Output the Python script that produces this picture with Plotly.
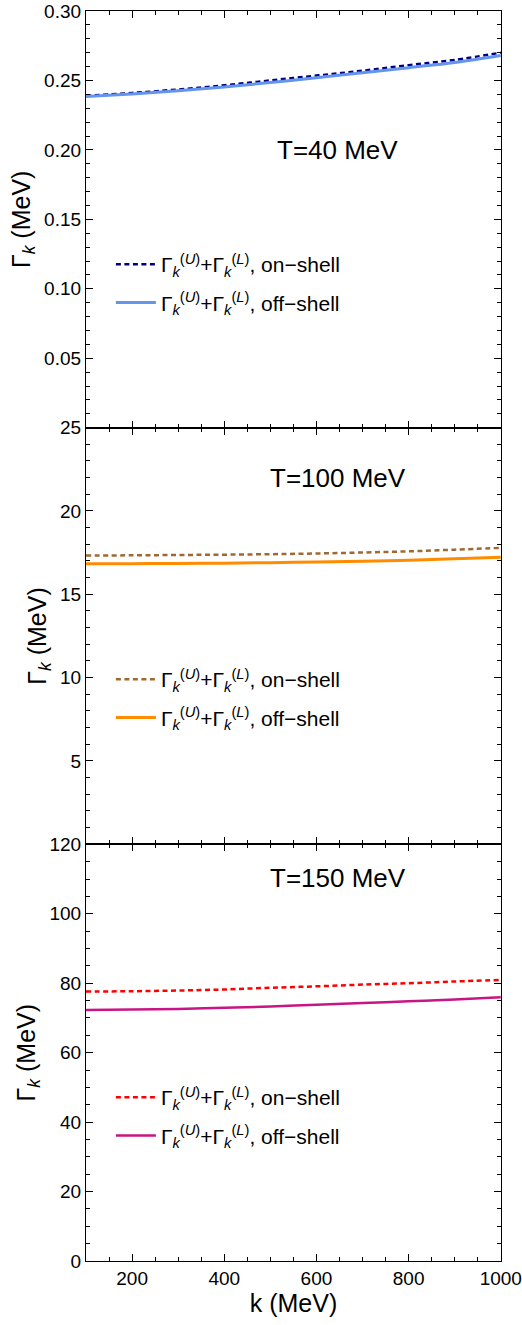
import plotly.graph_objects as go
from plotly.subplots import make_subplots

k = [100, 200, 300, 400, 500, 600, 700, 800, 900, 1000]

# T = 40 MeV
on_40 = [0.2390, 0.2410, 0.2435, 0.2465, 0.2500, 0.2535, 0.2570, 0.2610, 0.2648, 0.2700]
off_40 = [0.2385, 0.2403, 0.2425, 0.2453, 0.2485, 0.2520, 0.2555, 0.2592, 0.2630, 0.2680]
# T = 100 MeV
on_100 = [17.33, 17.34, 17.36, 17.38, 17.41, 17.45, 17.51, 17.58, 17.68, 17.79]
off_100 = [16.83, 16.84, 16.85, 16.87, 16.90, 16.94, 16.99, 17.05, 17.13, 17.23]
# T = 150 MeV
on_150 = [77.6, 77.7, 77.9, 78.2, 78.7, 79.1, 79.6, 80.0, 80.5, 80.95]
off_150 = [72.3, 72.4, 72.6, 72.9, 73.3, 73.8, 74.3, 74.8, 75.3, 75.95]

panel_titles = ["T=40 MeV", "T=100 MeV", "T=150 MeV"]
on_label = "Γ<sub><i>k</i></sub><sup>(<i>U</i>)</sup>+Γ<sub><i>k</i></sub><sup>(<i>L</i>)</sup>, on−shell"
off_label = "Γ<sub><i>k</i></sub><sup>(<i>U</i>)</sup>+Γ<sub><i>k</i></sub><sup>(<i>L</i>)</sup>, off−shell"

x_ticks = [200, 400, 600, 800, 1000]
y_ranges = [[0, 0.30], [0, 25], [0, 120]]
y_ticks = [[0.05, 0.10, 0.15, 0.20, 0.25, 0.30], [5, 10, 15, 20, 25], [0, 20, 40, 60, 80, 100, 120]]
y_minor = [0.01, 1, 5]
title_pos = [(646, 0.200), (646, 22.0), (646, 110.2)]

series = [(on_40, off_40, "#000080", "#6495ED"),
          (on_100, off_100, "#A06932", "#FF8C00"),
          (on_150, off_150, "#FF0000", "#C71585")]

FONT = "Liberation Sans, Arial, Helvetica, sans-serif"

fig = make_subplots(rows=3, cols=1, shared_xaxes=True, vertical_spacing=0)

legends = ["legend", "legend2", "legend3"]
for i, (on, off, c_on, c_off) in enumerate(series):
    r = i + 1
    fig.add_trace(go.Scatter(x=k, y=on, mode="lines", name=on_label,
                             legendgroup=f"on{i}",
                             line=dict(color=c_on, width=2.5, dash="5px,3.5px", shape="spline"),
                             legend=legends[i]), row=r, col=1)
    fig.add_trace(go.Scatter(x=k, y=off, mode="lines", name=off_label,
                             legendgroup=f"off{i}",
                             line=dict(color=c_off, width=3 if i < 2 else 2.5, shape="spline"),
                             legend=legends[i]), row=r, col=1)

axis_common = dict(showline=True, linecolor="black", linewidth=1.2, mirror="allticks",
                   ticks="inside", ticklen=7, tickwidth=1.2, tickcolor="black",
                   showgrid=False, zeroline=False, automargin=False,
                   tickfont=dict(family=FONT, size=19, color="black"))

for i in range(3):
    r = i + 1
    fig.update_yaxes(range=y_ranges[i], tickvals=y_ticks[i],
                     tickformat=".2f" if i == 0 else "d",
                     minor=dict(ticks="inside", dtick=y_minor[i], ticklen=4, tickcolor="black", tickwidth=1),
                     title=dict(text="Γ<sub><i>k</i></sub> (MeV)", font=dict(family=FONT, size=25, color="black"), standoff=6),
                     row=r, col=1, **axis_common)
    fig.update_xaxes(range=[100, 1000.5], tickvals=x_ticks,
                     minor=dict(ticks="inside", dtick=50, tick0=0, ticklen=4, tickcolor="black", tickwidth=1),
                     showticklabels=(i == 2), row=r, col=1, **axis_common)
    xr = "x" if i == 0 else f"x{r}"
    yr = "y" if i == 0 else f"y{r}"
    fig.add_annotation(x=title_pos[i][0], y=title_pos[i][1], xref=xr, yref=yr,
                       text=panel_titles[i], showarrow=False,
                       font=dict(family=FONT, size=26, color="black"))

fig.update_xaxes(title=dict(text="k (MeV)", font=dict(family=FONT, size=25, color="black"), standoff=4),
                 row=3, col=1)

H = 1325
def py(p):
    return (1261 - p) / 1250.0

leg_common = dict(xanchor="left", yanchor="top", bgcolor="rgba(0,0,0,0)", itemwidth=40,
                  font=dict(family=FONT, size=21, color="black"), tracegroupgap=8)
fig.update_layout(
    width=522, height=H,
    margin=dict(l=86, r=21, t=11, b=64),
    paper_bgcolor="white", plot_bgcolor="white",
    showlegend=True,
    legend=dict(x=0.06, y=py(244), **leg_common),
    legend2=dict(x=0.06, y=py(659), **leg_common),
    legend3=dict(x=0.06, y=py(1077), **leg_common),
)

fig.write_html("out.html")
